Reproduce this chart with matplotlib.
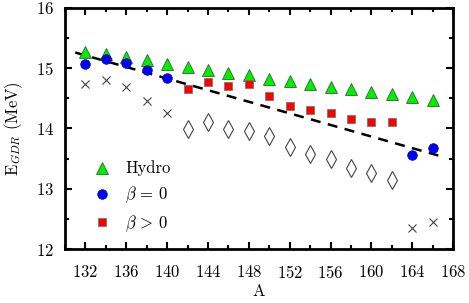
import numpy as np
import matplotlib
matplotlib.use("Agg")
import matplotlib.pyplot as plt
from matplotlib.ticker import MultipleLocator

plt.rcParams["font.family"] = "cmr10"
plt.rcParams["mathtext.fontset"] = "cm"
plt.rcParams["axes.formatter.use_mathtext"] = True

# hydrodynamical estimate
A_hydro = [132, 134, 136, 138, 140, 142, 144, 146, 148, 150, 152, 154, 156, 158, 160, 162, 164, 166]
E_hydro = [15.27, 15.23, 15.19, 15.13, 15.07, 15.02, 14.97, 14.92, 14.88, 14.82, 14.78, 14.74,
           14.69, 14.65, 14.61, 14.57, 14.53, 14.48]

# spherical
A_sph = [132, 134, 136, 138, 140, 164, 166]
E_sph = [15.07, 15.15, 15.09, 14.97, 14.84, 13.56, 13.68]

# deformed
A_def = [142, 144, 146, 148, 150, 152, 154, 156, 158, 160, 162]
E_def = [14.65, 14.77, 14.70, 14.73, 14.54, 14.37, 14.30, 14.26, 14.15, 14.11, 14.10]

# crosses (no legend)
A_x = [132, 134, 136, 138, 140, 164, 166]
E_x = [14.73, 14.80, 14.68, 14.46, 14.26, 12.35, 12.45]

# diamonds (no legend)
A_d = [142, 144, 146, 148, 150, 152, 154, 156, 158, 160, 162]
E_d = [13.99, 14.10, 13.99, 13.96, 13.88, 13.69, 13.58, 13.49, 13.34, 13.26, 13.15]

# dashed systematics line
A_fit = [131, 167]
E_fit = [15.26, 13.53]

fig = plt.figure(figsize=(4.69, 3.03), dpi=100)
ax = fig.add_axes([0.1386, 0.178, 0.8274, 0.796])

ax.plot(A_fit, E_fit, ls=(0, (4, 3)), color="black", lw=1.8, zorder=1)
ax.plot(A_x, E_x, "x", color="#444444", ms=6, mew=0.8, ls="none")
ax.plot(A_d, E_d, "d", mfc="none", mec="#444444", ms=9, mew=0.8, ls="none")
ax.plot(A_hydro, E_hydro, "^", color="#00ee00", mec="#336633", mew=0.6, ms=8, ls="none", label="Hydro")
ax.plot(A_sph, E_sph, "o", color="#0000ff", mec="#000066", mew=0.4, ms=7, ls="none", label=r"$\beta\,=\,0$")
ax.plot(A_def, E_def, "s", color="#ff0000", mec="#777777", mew=0.6, ms=6, ls="none", label=r"$\beta\,>\,0$")

ax.set_xlim(130, 168)
ax.set_ylim(12, 16)
ax.xaxis.set_major_locator(MultipleLocator(4))
ax.xaxis.set_minor_locator(MultipleLocator(2))
ax.yaxis.set_major_locator(MultipleLocator(1))
ax.yaxis.set_minor_locator(MultipleLocator(0.5))
ax.set_xticks(np.arange(132, 169, 4))
ax.tick_params(which="both", direction="in", top=True, right=True, labelsize=12, width=1.5)
ax.tick_params(which="major", length=5, pad=8)
ax.tick_params(axis="x", which="major", pad=11)
ax.tick_params(which="minor", length=3)
for s in ax.spines.values():
    s.set_linewidth(2)

ax.set_xlabel("A", fontsize=12, labelpad=2)
ax.set_ylabel(r"E$_{GDR}$ (MeV)", fontsize=12, labelpad=8)

ax.legend(loc="lower left", bbox_to_anchor=(0.03, 0.0), frameon=False, fontsize=12,
          handletextpad=0.8, labelspacing=0.5, handlelength=1.2)

fig.savefig("out.png", dpi=100)
